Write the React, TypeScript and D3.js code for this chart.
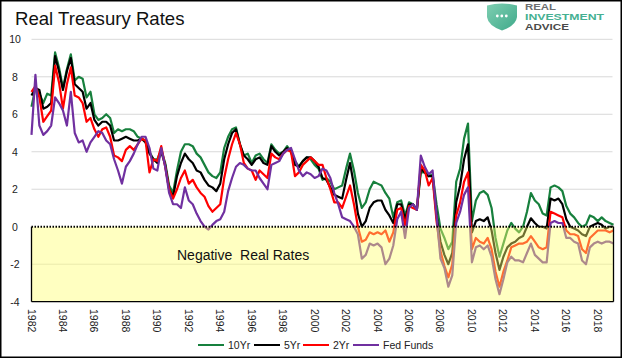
import * as d3 from "d3";

// quarterly observations, first point = Q1 1982, last point = Jan 2019
const startYear = 1982;
const pointsPerYear = 4;

const tenYr = [
  6.4, 7.4, 7.1, 6.6, 7.1, 7.0, 9.3, 8.5, 7.4, 8.4, 9.2, 7.8, 8.0, 7.9, 6.9, 7.2,
  6.0, 5.7, 5.8, 6.0, 5.8, 5.0, 5.2, 5.1, 5.2, 5.2, 5.1, 4.8, 4.7, 4.6, 4.0, 3.6,
  3.6, 4.1, 3.4, 2.2, 1.8, 3.0, 4.0, 4.4, 4.4, 4.3, 3.9, 3.7, 3.3, 2.9, 2.7, 2.6,
  2.9, 4.2, 4.8, 5.2, 5.3, 4.4, 3.8, 3.9, 3.4, 3.8, 3.9, 3.6, 3.4, 4.4, 4.1, 3.9,
  4.0, 4.3, 4.0, 3.5, 3.2, 3.5, 3.7, 3.6, 3.3, 3.1, 2.5, 2.6, 2.4, 2.0, 2.1, 2.2,
  3.1, 3.9, 3.0, 1.8, 1.0, 1.3, 2.0, 2.4, 2.3, 2.2, 1.8, 1.5, 0.5, 1.3, 1.4, 0.6,
  1.3, 1.2, 0.9, 2.9, 2.9, 2.7, 2.8, 1.2, -0.1, -0.6, -1.2, -0.8, 2.4, 3.1, 4.7, 5.5,
  0.3, 1.4, 1.8, 1.9, 1.7, 1.0, -0.6, -1.6, -0.9, -0.2, 0.2, -0.1, -0.3, 0.0, 0.8, 1.8,
  1.4, 1.2, 0.7, 0.6, 2.1, 2.2, 2.1, 1.9, 1.1, 0.7, 0.5, 0.2, 0.0, 0.1, 0.6, 0.5,
  0.3, 0.5, 0.3, 0.2, 0.1,
];

const fiveYr = [
  7.0, 7.4, 7.3, 6.3, 6.4, 6.6, 9.1, 8.3, 7.3, 8.3, 9.0, 7.6, 7.4, 7.2, 6.3, 6.6,
  5.7, 5.4, 5.6, 5.6, 5.4, 4.6, 4.6, 4.7, 4.8, 4.7, 4.6, 4.6, 4.7, 4.5, 3.9, 3.6,
  3.4, 4.0, 3.3, 2.0, 1.6, 2.7, 3.4, 3.9, 3.6, 3.4, 3.0, 2.9, 2.5, 2.2, 2.1, 1.9,
  2.3, 3.6, 4.4, 5.0, 5.2, 4.4, 3.8, 3.6, 3.3, 3.6, 3.7, 3.4, 3.3, 4.3, 4.0, 3.8,
  4.0, 4.2, 4.0, 3.3, 3.2, 3.5, 3.7, 3.7, 3.5, 3.2, 2.6, 2.5, 2.1, 1.7, 1.6, 1.5,
  2.5, 3.4, 2.2, 0.7, 0.0, 0.3, 1.0, 1.3, 1.4, 1.4, 0.9, 0.6, 0.2, 1.2, 1.2, 0.4,
  1.2, 1.2, 0.9, 3.1, 2.9, 2.7, 2.7, 0.6, -0.8, -1.5, -2.0, -1.4, 1.3, 2.2, 3.6, 4.4,
  -0.3, 0.3, 0.4, 0.3, 0.5, -0.2, -1.4, -2.3, -1.6, -1.1, -0.9, -0.8, -0.6, -0.5, 0.0, 0.45,
  0.2, 0.0, 0.0, -0.1, 1.5, 1.4, 1.5, 1.2, 0.4, 0.0, -0.1, -0.2, -0.4, -0.5, 0.0, 0.1,
  0.2, 0.1, -0.1, 0.0, 0.0,
];

const twoYr = [
  7.2, 7.5, 6.9, 5.6, 5.9, 6.2, 8.6, 7.7, 6.3, 7.6, 8.5, 7.0, 6.9, 6.6, 5.6, 5.8,
  5.2, 4.8, 5.2, 5.3, 4.8, 3.8, 3.7, 3.5, 4.1, 4.3, 4.1, 4.4, 4.7, 4.6, 2.9, 3.6,
  3.5, 4.3, 3.2, 2.0, 1.5, 2.0, 2.6, 3.0, 2.3, 2.5, 2.1, 1.8, 1.6, 1.1, 0.8, 1.0,
  1.2, 2.6, 3.6, 4.4, 5.0, 4.4, 3.4, 3.1, 3.0, 2.5, 3.0, 2.8, 2.6, 3.9, 3.7, 3.6,
  3.9, 4.1, 4.0, 2.7, 2.9, 3.3, 3.5, 3.7, 3.5, 3.3, 3.3, 2.6, 2.0, 1.3, 1.3, 1.0,
  1.6, 2.2, 1.2, 0.0, -0.8, -0.7, -0.3, -0.4, -0.3, -0.4, -0.2, -0.8, -0.3, 0.9, 1.0, 0.1,
  1.1, 1.0, 0.9, 3.3, 3.0, 2.2, 2.6, 0.3, -1.3, -2.1, -2.7, -2.0, 0.6, 1.3, 2.4, 2.9,
  -1.2, -0.6, -0.8, -0.9, -0.6, -1.2, -2.4, -3.2, -2.4, -1.8, -1.1, -1.0, -0.9, -0.9, -0.8, -0.5,
  -0.8, -1.1, -1.2, -1.1, 0.8, 0.7, 0.6, 0.5, -0.2, -0.4, -0.4, -0.5, -1.2, -1.4, -0.6, -0.4,
  -0.2, -0.2, -0.2, -0.3, -0.2,
];

const fedFunds = [
  4.9, 8.1, 5.4, 4.9, 5.1, 5.4, 6.9, 6.6, 6.2, 5.4, 7.2, 5.0, 4.5, 4.6, 4.0, 4.5,
  4.8, 5.1, 5.0, 4.6, 4.4, 3.6, 3.0, 2.3, 3.2, 3.5, 3.9, 4.4, 4.8, 4.8, 4.2, 3.1,
  3.0, 4.2, 3.2, 1.8, 1.2, 1.2, 1.0, 2.1, 1.4, 1.2, 0.7, 0.3, 0.0, -0.15, 0.1, 0.3,
  0.4, 0.8, 1.9, 2.6, 3.2, 3.4, 3.3, 3.1, 3.0, 3.0, 2.6, 2.3, 2.0, 3.3, 3.4, 3.5,
  3.9, 4.1, 4.2, 3.6, 3.0, 2.7, 2.9, 2.8, 2.6, 2.7, 3.1, 3.0, 2.6, 1.8, 1.2, 0.5,
  0.4, 0.3, 0.0, -0.4, -1.7, -1.5, -0.9, -1.0, -0.9, -1.1, -2.0, -1.7, -1.0, 0.4, 0.8, -0.6,
  1.0, 1.2, 0.9, 3.8, 3.2, 2.8, 3.0, 0.6, -1.7, -2.2, -3.2, -2.6, 0.2, 0.8, 1.7, 2.1,
  -1.9, -1.1, -1.0, -1.2, -1.0, -1.6, -2.8, -3.6, -2.8, -1.9, -1.6, -1.8, -1.8, -1.9, -1.4, -0.9,
  -1.5, -1.7, -1.9, -1.9, 0.2, 0.3, 0.2, 0.2, -0.6, -0.6, -0.8, -0.9, -1.8, -2.0, -1.1, -0.9,
  -0.8, -0.9, -0.8, -0.8, -0.9,
];

const seriesNames = ["10Yr", "5Yr", "2Yr", "Fed Funds"];
const seriesValues = [tenYr, fiveYr, twoYr, fedFunds];
const seriesColors = ["#17803d", "#000000", "#ff0000", "#7030a0"];

const yTicks = [10, 8, 6, 4, 2, 0, -2, -4];
const gridTicks = [10, 8, 6, 4, 2, -2];
const xTickYears = [
  1982, 1984, 1986, 1988, 1990, 1992, 1994, 1996, 1998, 2000,
  2002, 2004, 2006, 2008, 2010, 2012, 2014, 2016, 2018,
];

const W = 624;
const H = 362;
const font = "'Liberation Sans', Arial, sans-serif";

// legend layout (line start x for each entry)
const legendX = [198, 254, 303, 353];
const legendY = 345;

export default function App() {
  const x = d3.scaleLinear().domain([1982, 2019]).range([31.5, 613.5]);
  const y = d3.scaleLinear().domain([-4, 10]).range([301.7, 39.3]);

  const line = d3
    .line<number>()
    .x((_, i) => x(startYear + i / pointsPerYear))
    .y((d) => y(d));

  const left = x.range()[0];
  const right = x.range()[1];

  return (
    <svg
      width={W}
      height={H}
      style={{ position: "absolute", left: 0, top: 0, background: "#fff" }}
    >
      <rect x={0} y={0} width={W} height={H} fill="#fff" />

      {/* title */}
      <text x={15} y={25} fontFamily={font} fontSize={18.6} fill="#111">
        Real Treasury Rates
      </text>

      {/* logo */}
      <g>
        <defs>
          <linearGradient id="shield" x1="0" y1="0" x2="1" y2="1">
            <stop offset="0" stopColor="#7fcfb2" />
            <stop offset="1" stopColor="#3fa98a" />
          </linearGradient>
        </defs>
        <path
          d="M487,5.5 Q502,1.5 517,5.5 L517,17 Q516,25.5 502,30.5 Q488,25.5 487,17 Z"
          fill="url(#shield)"
        />
        {[497.3, 501.8, 506.3].map((cx) => (
          <circle key={cx} cx={cx} cy={16} r={1.4} fill="#fff" />
        ))}
        <text x={525} y={9.8} fontFamily={font} fontWeight="bold" fontSize={9.8} fill="#6d6e70" textLength={31} lengthAdjust="spacingAndGlyphs">
          REAL
        </text>
        <text x={525} y={20} fontFamily={font} fontWeight="bold" fontSize={9.8} fill="#45b092" textLength={79} lengthAdjust="spacingAndGlyphs">
          INVESTMENT
        </text>
        <text x={525} y={30} fontFamily={font} fontWeight="bold" fontSize={9.8} fill="#4a4a4a" textLength={44} lengthAdjust="spacingAndGlyphs">
          ADVICE
        </text>
      </g>

      {/* gridlines */}
      {gridTicks.map((t) => (
        <line key={t} x1={left} x2={right - 1} y1={y(t)} y2={y(t)} stroke="#d9d9d9" strokeWidth={1} />
      ))}

      {/* series */}
      {seriesValues.map((vals, k) => (
        <path
          key={seriesNames[k]}
          d={line(vals) ?? ""}
          fill="none"
          stroke={seriesColors[k]}
          strokeWidth={2.2}
          strokeLinejoin="round"
        />
      ))}

      {/* negative zone overlay */}
      <rect
        x={left}
        y={y(0)}
        width={right - left}
        height={y(-4) - y(0)}
        fill="#ffff70"
        fillOpacity={0.43}
      />
      <line x1={left} x2={left} y1={y(0)} y2={y(-4)} stroke="#000" strokeWidth={1.3} />
      <line x1={right} x2={right} y1={y(0)} y2={y(-4)} stroke="#000" strokeWidth={1.3} />
      <line x1={left} x2={right} y1={y(-4)} y2={y(-4)} stroke="#000" strokeWidth={1.3} />
      <line x1={left} x2={right} y1={y(0)} y2={y(0)} stroke="#000" strokeWidth={2} strokeDasharray="1.5,1.5" />

      <text x={177} y={260} fontFamily={font} fontSize={14} fill="#111" style={{ whiteSpace: "pre" }}>
        {"Negative  Real Rates"}
      </text>

      {/* y axis labels */}
      {yTicks.map((t) => (
        <text
          key={t}
          x={15}
          y={y(t)}
          textAnchor="middle"
          dominantBaseline="central"
          fontFamily={font}
          fontSize={10.5}
          fill="#222"
        >
          {t}
        </text>
      ))}

      {/* x axis labels (rotated) */}
      {xTickYears.map((yr) => (
        <text
          key={yr}
          transform={`translate(${x(yr)},309) rotate(90)`}
          dominantBaseline="central"
          fontFamily={font}
          fontSize={10.5}
          fill="#222"
        >
          {yr}
        </text>
      ))}

      {/* legend */}
      {seriesNames.map((name, k) => (
        <g key={name}>
          <line
            x1={legendX[k]}
            x2={legendX[k] + 26}
            y1={legendY}
            y2={legendY}
            stroke={seriesColors[k]}
            strokeWidth={2}
          />
          <text
            x={legendX[k] + 30}
            y={legendY - 0.5}
            dominantBaseline="central"
            fontFamily={font}
            fontSize={10.5}
            fill="#222"
          >
            {name}
          </text>
        </g>
      ))}

      {/* outer frame */}
      <rect x={0.75} y={0.75} width={620.5} height={356.5} fill="none" stroke="#000" strokeWidth={1.5} />
    </svg>
  );
}
